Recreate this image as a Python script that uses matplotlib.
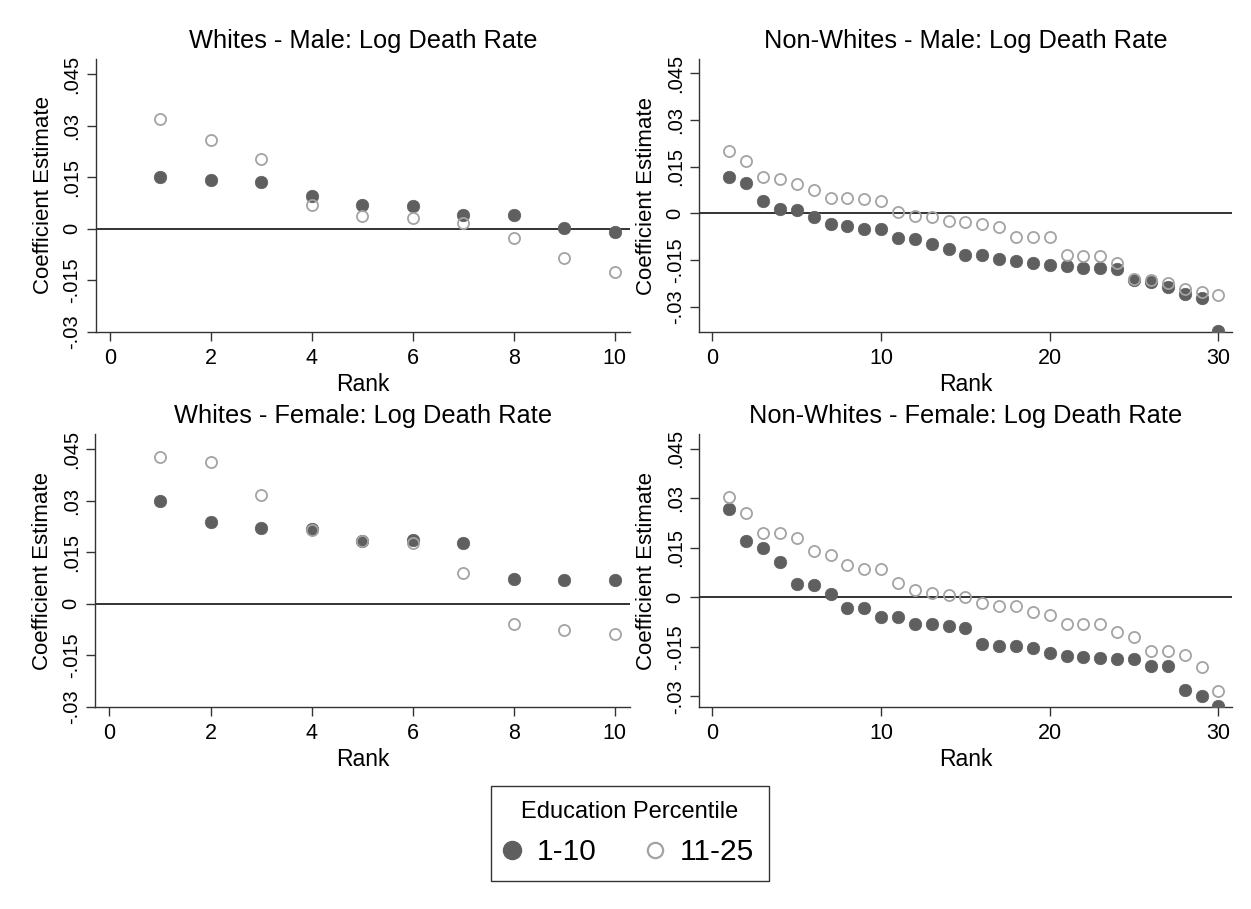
import matplotlib
matplotlib.use("Agg")
import matplotlib.pyplot as plt
from matplotlib.lines import Line2D
import numpy as np

plt.rcParams['font.family'] = ['Liberation Sans', 'DejaVu Sans']

# ---------------- data ----------------
rank10 = list(range(1, 11))
rank30 = list(range(1, 31))

wm_low = [0.0150, 0.0143, 0.0135, 0.0097, 0.0069, 0.0067, 0.0041, 0.0040, 0.0002, -0.0008]
wm_mid = [0.0321, 0.0259, 0.0203, 0.0070, 0.0037, 0.0032, 0.0018, -0.0027, -0.0084, -0.0125]

wf_low = [0.0299, 0.0238, 0.0221, 0.0218, 0.0183, 0.0185, 0.0178, 0.0073, 0.0070, 0.0069]
wf_mid = [0.0426, 0.0413, 0.0317, 0.0214, 0.0181, 0.0176, 0.0088, -0.0060, -0.0078, -0.0088]

nm_low = [0.0116, 0.0099, 0.0041, 0.0015, 0.0010, -0.0010, -0.0034, -0.0042, -0.0050, -0.0049,
          -0.0078, -0.0083, -0.0098, -0.0116, -0.0133, -0.0133, -0.0145, -0.0154, -0.0158, -0.0167,
          -0.0170, -0.0175, -0.0176, -0.0180, -0.0214, -0.0222, -0.0236, -0.0258, -0.0271, -0.0377]
nm_mid = [0.0201, 0.0169, 0.0118, 0.0111, 0.0093, 0.0075, 0.0051, 0.0050, 0.0046, 0.0041,
          0.0004, -0.0009, -0.0013, -0.0024, -0.0027, -0.0035, -0.0044, -0.0075, -0.0076, -0.0077,
          -0.0135, -0.0136, -0.0137, -0.0159, -0.0211, -0.0214, -0.0225, -0.0242, -0.0251, -0.0261]

nf_low = [0.0266, 0.0171, 0.0149, 0.0107, 0.0039, 0.0037, 0.0010, -0.0031, -0.0031, -0.0059,
          -0.0061, -0.0080, -0.0080, -0.0087, -0.0093, -0.0140, -0.0146, -0.0148, -0.0152, -0.0170,
          -0.0178, -0.0180, -0.0183, -0.0186, -0.0188, -0.0209, -0.0209, -0.0281, -0.0298, -0.0329]
nf_mid = [0.0303, 0.0256, 0.0194, 0.0194, 0.0178, 0.0141, 0.0129, 0.0098, 0.0085, 0.0085,
          0.0044, 0.0022, 0.0014, 0.0006, 0.0000, -0.0017, -0.0025, -0.0025, -0.0044, -0.0053,
          -0.0080, -0.0082, -0.0082, -0.0104, -0.0119, -0.0162, -0.0164, -0.0174, -0.0212, -0.0282]

titles = ["Whites - Male: Log Death Rate", "Non-Whites - Male: Log Death Rate",
          "Whites - Female: Log Death Rate", "Non-Whites - Female: Log Death Rate"]
yticks = [-0.03, -0.015, 0, 0.015, 0.03, 0.045]
ytick_labels = ["-.03", "-.015", "0", ".015", ".03", ".045"]
xticks10 = [0, 2, 4, 6, 8, 10]
xticks30 = [0, 10, 20, 30]
legend_title = "Education Percentile"
legend_labels = ["1-10", "11-25"]

# ---------------- style ----------------
W, H = 1251, 909
DPI = 100
FILL = '#5f5f5f'
HOLLOW = '#a3a3a3'
AXC = '#333333'

fig = plt.figure(figsize=(W / DPI, H / DPI), dpi=DPI)
fig.patch.set_facecolor('white')


def px_axes(left, right, top, bottom):
    return fig.add_axes([left / W, 1 - bottom / H, (right - left) / W, (bottom - top) / H])


panels = [
    dict(box=(95.7, 630, 59.3, 331.7), x=rank10, lo=wm_low, mid=wm_mid, xt=xticks10,
         xlim=(-0.28, 10.3), ylim=(-0.0300, 0.0494)),
    dict(box=(699.3, 1231.7, 59.3, 332.3), x=rank30, lo=nm_low, mid=nm_mid, xt=xticks30,
         xlim=(-0.78, 30.79), ylim=(-0.0382, 0.0495)),
    dict(box=(95.3, 630, 434.3, 706.7), x=rank10, lo=wf_low, mid=wf_mid, xt=xticks10,
         xlim=(-0.28, 10.3), ylim=(-0.0300, 0.0493)),
    dict(box=(699.3, 1231.7, 434.3, 706.7), x=rank30, lo=nf_low, mid=nf_mid, xt=xticks30,
         xlim=(-0.78, 30.79), ylim=(-0.0331, 0.0493)),
]

for p, title in zip(panels, titles):
    ax = px_axes(*p['box'])
    ax.axhline(0, color=AXC, lw=1.4, zorder=1)
    ax.plot(p['x'], p['lo'], linestyle='none', marker='o', markersize=9,
            markerfacecolor=FILL, markeredgecolor=FILL, markeredgewidth=0.5, zorder=3)
    ax.plot(p['x'], p['mid'], linestyle='none', marker='o', markersize=8,
            markerfacecolor='none', markeredgecolor=HOLLOW, markeredgewidth=1.3, zorder=4)
    ax.set_xlim(*p['xlim'])
    ax.set_ylim(*p['ylim'])
    ax.set_xticks(p['xt'])
    ax.set_xticklabels([str(v) for v in p['xt']])
    ax.set_yticks(yticks)
    ax.set_yticklabels(ytick_labels, rotation=90, va='center')
    for s in ['top', 'right']:
        ax.spines[s].set_visible(False)
    for s in ['left', 'bottom']:
        ax.spines[s].set_color(AXC)
        ax.spines[s].set_linewidth(1.0)
    ax.tick_params(direction='out', length=6.5, width=1.0, color=AXC)
    ax.tick_params(axis='x', labelsize=15.5, pad=5)
    ax.tick_params(axis='y', labelsize=14.5, pad=4)
    ax.set_xlabel("Rank", fontsize=16.5, labelpad=3)
    ax.set_ylabel("Coefficient Estimate", fontsize=16, labelpad=6)
    ax.set_title(title, fontsize=18.3, pad=8)
    ax.set_facecolor('white')

handles = [
    Line2D([], [], linestyle='none', marker='o', markersize=13,
           markerfacecolor=FILL, markeredgecolor=FILL),
    Line2D([], [], linestyle='none', marker='o', markersize=11,
           markerfacecolor='none', markeredgecolor=HOLLOW, markeredgewidth=1.6),
]
leg = fig.legend(handles, legend_labels, title=legend_title, ncol=2,
                 loc='center', bbox_to_anchor=(630 / W, 1 - 833.5 / H),
                 fontsize=21.5, title_fontsize=17, frameon=True, fancybox=False,
                 edgecolor='black', handletextpad=0.63, columnspacing=1.74,
                 handlelength=0.4, borderpad=0.5)
leg.get_frame().set_linewidth(1.0)

fig.savefig("out.png", dpi=DPI, facecolor='white')
